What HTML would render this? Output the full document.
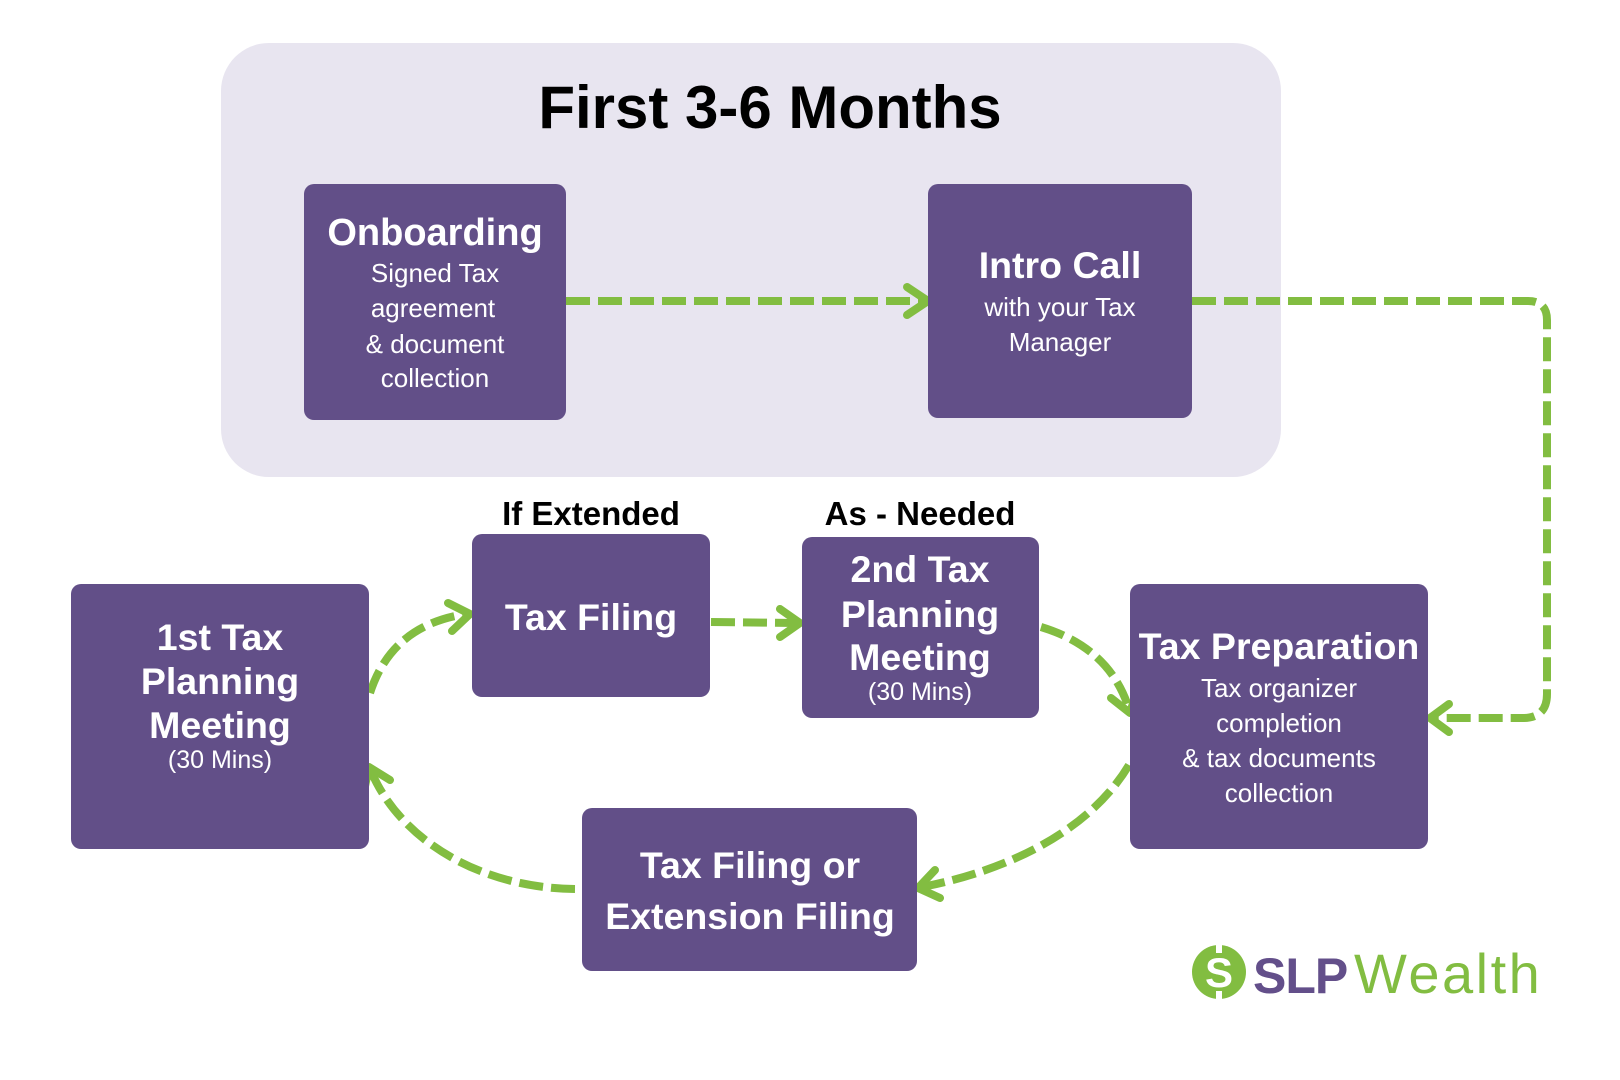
<!DOCTYPE html>
<html>
<head>
<meta charset="utf-8">
<style>
  html,body{margin:0;padding:0;background:#ffffff;}
  svg{display:block;}
  text{font-family:"Liberation Sans", Arial, sans-serif;}
  .t{font-weight:bold;fill:#ffffff;font-size:37.5px;}
  .s{fill:#ffffff;font-size:26px;}
  .m{fill:#ffffff;font-size:25px;}
  .lbl{font-weight:bold;fill:#000000;font-size:33px;}
  .con{fill:none;stroke:#82bd41;stroke-width:8;stroke-dasharray:24 8;}
  .ah{fill:none;stroke:#82bd41;stroke-width:8;stroke-linecap:round;stroke-linejoin:round;}
  .box{fill:#624f88;}
</style>
</head>
<body>
<svg width="1620" height="1080" viewBox="0 0 1620 1080" xmlns="http://www.w3.org/2000/svg">
  <rect x="0" y="0" width="1620" height="1080" fill="#ffffff"/>

  <!-- panel -->
  <rect x="221" y="43" width="1060" height="434" rx="48" ry="48" fill="#e8e5f0"/>
  <text x="770" y="128" text-anchor="middle" style="font-weight:bold;font-size:60px;fill:#000">First 3-6 Months</text>

  <!-- connectors -->
  <path class="con" d="M566,301 H922"/>
  <polyline class="ah" points="907,287 928,301 907,315"/>

  <path class="con" d="M1192,301 H1528 Q1547,301 1547,320 V694 Q1547,718 1523,718 H1434"/>
  <polyline class="ah" points="1449,704 1430,718 1449,732"/>

  <path class="con" d="M370,693 Q392,625 466,614"/>
  <polyline class="ah" points="448,603 470,614 452,631"/>

  <path class="con" d="M711,622 L796,623"/>
  <polyline class="ah" points="780,609 800,623 780,637"/>

  <path class="con" d="M1041,627 Q1110,648 1129,709"/>
  <polyline class="ah" points="1111,698 1130,713 1137,690"/>

  <path class="con" d="M1129,765 C1090,830 1010,870 922,887"/>
  <polyline class="ah" points="935,870 918,888 940,898"/>

  <path class="con" d="M575,889 C480,888 400,840 371,771"/>
  <polyline class="ah" points="390,780 369,767 364,791"/>

  <!-- Onboarding -->
  <rect class="box" x="304" y="184" width="262" height="236" rx="10"/>
  <text class="t" x="435" y="245" text-anchor="middle" style="font-size:38px">Onboarding</text>
  <text class="s" x="435" y="282" text-anchor="middle">Signed Tax</text>
  <text class="s" x="433" y="317" text-anchor="middle">agreement</text>
  <text class="s" x="435" y="353" text-anchor="middle">&amp; document</text>
  <text class="s" x="435" y="387" text-anchor="middle">collection</text>

  <!-- Intro Call -->
  <rect class="box" x="928" y="184" width="264" height="234" rx="10"/>
  <text class="t" x="1060" y="278" text-anchor="middle">Intro Call</text>
  <text class="s" x="1060" y="316" text-anchor="middle">with your Tax</text>
  <text class="s" x="1060" y="351" text-anchor="middle">Manager</text>

  <!-- labels -->
  <text class="lbl" x="591" y="525" text-anchor="middle">If Extended</text>
  <text class="lbl" x="920" y="525" text-anchor="middle">As - Needed</text>

  <!-- 1st Tax Planning -->
  <rect class="box" x="71" y="584" width="298" height="265" rx="10"/>
  <text class="t" x="220" y="650" text-anchor="middle">1st Tax</text>
  <text class="t" x="220" y="694" text-anchor="middle">Planning</text>
  <text class="t" x="220" y="738" text-anchor="middle">Meeting</text>
  <text class="m" x="220" y="768" text-anchor="middle">(30 Mins)</text>

  <!-- Tax Filing -->
  <rect class="box" x="472" y="534" width="238" height="163" rx="10"/>
  <text class="t" x="591" y="630" text-anchor="middle">Tax Filing</text>

  <!-- 2nd Tax Planning -->
  <rect class="box" x="802" y="537" width="237" height="181" rx="10"/>
  <text class="t" x="920" y="582" text-anchor="middle">2nd Tax</text>
  <text class="t" x="920" y="627" text-anchor="middle">Planning</text>
  <text class="t" x="920" y="670" text-anchor="middle">Meeting</text>
  <text class="m" x="920" y="700" text-anchor="middle">(30 Mins)</text>

  <!-- Tax Preparation -->
  <rect class="box" x="1130" y="584" width="298" height="265" rx="10"/>
  <text class="t" x="1279" y="659" text-anchor="middle">Tax Preparation</text>
  <text class="s" x="1279" y="697" text-anchor="middle">Tax organizer</text>
  <text class="s" x="1279" y="732" text-anchor="middle">completion</text>
  <text class="s" x="1279" y="767" text-anchor="middle">&amp; tax documents</text>
  <text class="s" x="1279" y="802" text-anchor="middle">collection</text>

  <!-- Tax Filing or Extension Filing -->
  <rect class="box" x="582" y="808" width="335" height="163" rx="10"/>
  <text class="t" x="750" y="878" text-anchor="middle">Tax Filing or</text>
  <text class="t" x="750" y="929" text-anchor="middle">Extension Filing</text>

  <!-- logo -->
  <circle cx="1219" cy="972" r="27" fill="#82bd41"/>
  <rect x="1216" y="944" width="6" height="9" fill="#ffffff"/>
  <rect x="1216" y="991" width="6" height="9" fill="#ffffff"/>
  <text x="1219" y="987" text-anchor="middle" style="font-weight:bold;font-size:42px;fill:#ffffff">S</text>
  <text x="1253" y="993" style="font-weight:bold;font-size:50px;fill:#634f8a;letter-spacing:-1px">SLP</text>
  <text x="1354" y="993" style="font-size:56px;fill:#82bd41;letter-spacing:2.5px">Wealth</text>
</svg>
</body>
</html>
